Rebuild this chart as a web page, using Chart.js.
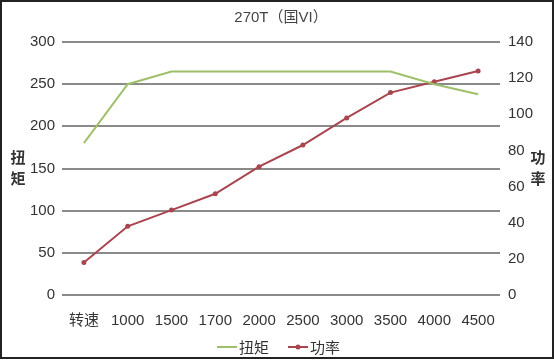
<!DOCTYPE html>
<html>
<head>
<meta charset="utf-8">
<script src="https://cdn.jsdelivr.net/npm/chart.js@4"></script>
<style>
  html, body { margin: 0; padding: 0; background: #fff; }
  #wrap { width: 554px; height: 360px; }
</style>
</head>
<body>
<div id="wrap"><canvas id="engineChart" width="554" height="360"></canvas></div>
<script>
const rpmLabels = ['转速', '1000', '1500', '1700', '2000', '2500', '3000', '3500', '4000', '4500'];
const torqueValues = [180, 250, 265, 265, 265, 265, 265, 265, 250, 238];
const powerValues = [18, 38, 47, 56, 71, 83, 98, 112, 118, 124];
const torqueTicks = [0, 50, 100, 150, 200, 250, 300];
const powerTicks = [0, 20, 40, 60, 80, 100, 120, 140];

const FONT = '"Liberation Sans", Arial, "Noto Sans CJK SC", sans-serif';
const GREEN = '#9fc06a';
const RED = '#a8454f';

// frame, title, stacked axis titles and bottom legend
const decorPlugin = {
    id: 'decor',
    afterDraw(chart) {
        const ctx = chart.ctx;
        ctx.save();
        ctx.strokeStyle = '#222';
        ctx.lineWidth = 2;
        ctx.strokeRect(1, 1, 552, 357);

        ctx.fillStyle = '#444';
        ctx.textAlign = 'center';
        ctx.textBaseline = 'middle';
        ctx.font = '15px ' + FONT;
        ctx.fillText('270T（国VI）', 281, 18);

        ctx.font = 'bold 15px "Noto Sans CJK SC", sans-serif';
        ctx.fillStyle = '#333';
        ctx.fillText('扭', 18, 157);
        ctx.fillText('矩', 18, 178);
        ctx.fillText('功', 538, 157);
        ctx.fillText('率', 538, 178);

        // legend
        const y = 347;
        ctx.lineWidth = 2;
        ctx.font = '15px "Noto Sans CJK SC", sans-serif';
        ctx.textAlign = 'left';
        const items = [
            { x: 217, color: GREEN, dot: false, text: chart.data.datasets[0].label },
            { x: 288, color: RED, dot: true, text: chart.data.datasets[1].label }
        ];
        items.forEach(it => {
            ctx.strokeStyle = it.color;
            ctx.beginPath();
            ctx.moveTo(it.x, y);
            ctx.lineTo(it.x + 20, y);
            ctx.stroke();
            if (it.dot) {
                ctx.fillStyle = it.color;
                ctx.beginPath();
                ctx.arc(it.x + 10, y, 2.5, 0, Math.PI * 2);
                ctx.fill();
            }
            ctx.fillStyle = '#333';
            ctx.fillText(it.text, it.x + 22, y);
        });
        ctx.restore();
    }
};

const ctx = document.getElementById('engineChart').getContext('2d');
const engineChart = new Chart(ctx, {
    type: 'line',
    data: {
        labels: rpmLabels,
        datasets: [{
            label: '扭矩',
            data: torqueValues,
            yAxisID: 'yTorque',
            borderColor: GREEN,
            borderWidth: 2,
            pointRadius: 0,
            tension: 0
        }, {
            label: '功率',
            data: powerValues,
            yAxisID: 'yPower',
            borderColor: RED,
            backgroundColor: RED,
            borderWidth: 2,
            pointRadius: 2.5,
            pointBorderWidth: 0,
            tension: 0
        }]
    },
    options: {
        responsive: false,
        animation: false,
        layout: {
            padding: { top: 42, left: 0, right: 0, bottom: 0 }
        },
        plugins: {
            legend: { display: false },
            title: { display: false },
            tooltip: { enabled: false }
        },
        scales: {
            x: {
                offset: true,
                grid: { display: false, offset: true },
                border: { display: false },
                ticks: {
                    color: '#333',
                    font: { family: FONT, size: 15 },
                    padding: 9,
                    maxRotation: 0,
                    autoSkip: false
                },
                afterFit: s => { s.height = 65; }
            },
            yTorque: {
                position: 'left',
                min: 0,
                max: 300,
                afterBuildTicks: s => { s.ticks = torqueTicks.map(v => ({ value: v })); },
                grid: { color: '#8a8a8a', lineWidth: 2, drawTicks: false },
                border: { display: false },
                ticks: {
                    color: '#333',
                    font: { family: FONT, size: 15 },
                    padding: 7
                },
                afterFit: s => { s.width = 62; }
            },
            yPower: {
                position: 'right',
                min: 0,
                max: 140,
                afterBuildTicks: s => { s.ticks = powerTicks.map(v => ({ value: v })); },
                grid: { display: false, drawTicks: false },
                border: { display: false },
                ticks: {
                    color: '#333',
                    font: { family: FONT, size: 15 },
                    padding: 8
                },
                afterFit: s => { s.width = 54; }
            }
        }
    },
    plugins: [decorPlugin]
});
</script>
</body>
</html>
